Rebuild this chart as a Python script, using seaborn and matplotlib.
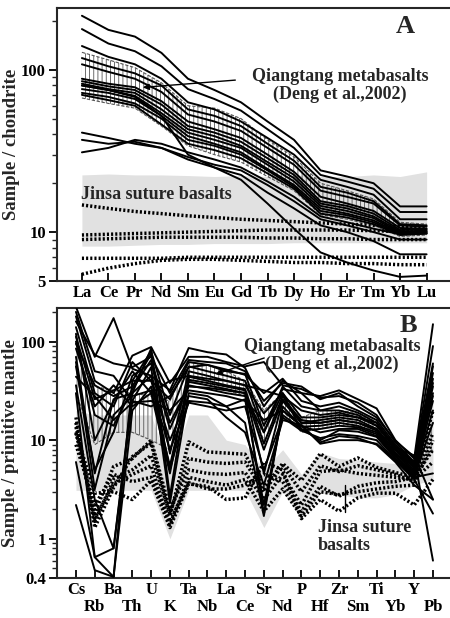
import numpy as np
import pandas as pd
import seaborn as sns
import matplotlib.pyplot as plt
from matplotlib.ticker import NullFormatter

# ---- panel A: chondrite-normalised REE ----
ree = ["La", "Ce", "Pr", "Nd", "Sm", "Eu", "Gd", "Tb", "Dy", "Ho", "Er", "Tm", "Yb", "Lu"]

ree_qiangtang = [
    [215, 176, 160, 127, 88, 75, 63, 48, 37, 24, 22, 20, 14.4, 14.4],
    [178, 145, 130, 105, 76, 66, 56, 43, 33, 22.5, 20.5, 18.5, 13.3, 13.3],
    [140, 120, 108, 88, 63, 57, 48, 38, 30, 21, 19, 17, 12, 12],
    [118, 105, 95, 80, 57, 52, 45, 35, 27.5, 19, 17.5, 15.5, 11.2, 11],
    [108, 97, 88, 73, 53, 48, 42, 33, 26, 18, 16.5, 15, 11, 10.8],
    [88, 82, 78, 64, 48, 43, 38, 30, 23.5, 16.5, 15, 13.5, 10.6, 10.5],
    [85, 79, 75, 61, 45, 41, 36, 28.5, 22.5, 15.5, 14.5, 13, 10.3, 10.4],
    [82, 76, 72, 57, 43, 39, 34, 27, 21.5, 15, 14, 12.5, 10.1, 10.2],
    [80, 75, 69, 54, 41, 37, 33, 26, 20.5, 14.5, 13.5, 12.2, 9.9, 10],
    [76, 72, 66, 52, 39, 35, 31, 24.5, 19.5, 14, 13, 11.8, 9.8, 10.1],
    [72, 68, 62, 50, 37, 34, 30, 24, 19, 13.5, 12.7, 11.5, 9.7, 9.9],
    [70, 65, 60, 46, 35, 32, 28.5, 23, 18.5, 13, 12.3, 11.2, 9.6, 9.8],
    [80, 75, 68, 52, 30, 25, 21, 15, 10.5, 7.5, 6.5, 5.8, 5.3, 5.4],
    [41, 38, 35, 33, 28, 25, 22.5, 17.5, 14, 11, 10, 8.8, 7.3, 7.3],
    [37, 35, 36, 33, 29, 26, 24, 19.5, 15.5, 12, 11, 10, 9, 9],
    [31, 33, 37, 35, 31, 28, 25, 20.5, 16.5, 12.5, 11.5, 10.5, 9.7, 9.8],
]
ree_jinsa = [
    [14.7, 14.0, 13.4, 13.0, 12.6, 12.3, 12.0, 11.8, 11.6, 11.4, 11.2, 11.0, 10.8, 10.7],
    [9.6, 9.7, 9.8, 9.9, 10.0, 10.1, 10.2, 10.3, 10.3, 10.3, 10.3, 10.2, 10.1, 10.1],
    [9.0, 9.1, 9.2, 9.3, 9.3, 9.3, 9.3, 9.2, 9.2, 9.1, 9.1, 9.0, 9.0, 9.0],
    [6.9, 6.9, 6.9, 6.9, 7.0, 7.0, 7.0, 7.0, 7.0, 7.0, 7.0, 7.0, 7.0, 7.0],
    [5.5, 6.0, 6.4, 6.7, 6.8, 6.8, 6.7, 6.6, 6.5, 6.5, 6.4, 6.4, 6.3, 6.3],
]
ree_field_hi = [128, 115, 103, 83, 60, 58, 50, 37, 29, 20, 18, 16, 11.5, 11.2]
ree_field_lo = [67, 62, 58, 45, 34, 30, 27, 22, 18, 12.8, 12, 11, 9.4, 9.6]
ree_gray_hi = [22.5, 22.8, 22.5, 22.5, 22.3, 22.0, 22.3, 22.0, 22.5, 22.0, 22.0, 22.5, 22.0, 23.5]
ree_gray_lo = [8.2, 8.2, 8.3, 8.4, 8.4, 8.5, 8.5, 8.5, 8.6, 8.6, 8.6, 8.6, 8.6, 8.6]

# ---- panel B: primitive-mantle-normalised trace elements ----
trace = ["Cs", "Rb", "Ba", "Th", "U", "K", "Ta", "Nb", "La", "Ce",
         "Sr", "Nd", "P", "Hf", "Zr", "Sm", "Ti", "Yb", "Y", "Pb"]

trace_qiangtang = [
    [225, 70, 173, 53, 45, 32, 86, 78, 74, 54, 22, 40, 30, 28, 32, 26, 21, 10, 6.5, 150],
    [180, 40, 30, 72, 88, 38, 70, 70, 62, 56, 62, 36, 33, 27, 28, 24, 18, 9.5, 6.0, 60],
    [140, 30, 22, 62, 40, 26, 62, 58, 52, 46, 30, 42, 25, 22, 24, 20, 16, 9.0, 5.8, 56],
    [112, 26, 32, 40, 80, 18, 56, 50, 45, 40, 12, 35, 22, 20, 22, 19, 15, 8.6, 5.6, 48],
    [95, 36, 28, 35, 75, 7.3, 50, 45, 40, 36, 18.7, 30, 17, 17, 18, 17, 14, 8.2, 5.4, 42],
    [85, 22, 36, 22, 30, 4.6, 44, 40, 36, 33, 9.2, 28, 15, 16, 17, 16, 13, 7.9, 5.2, 38],
    [70, 4.6, 26, 30, 85, 2.7, 41, 38, 35, 32, 4.6, 25, 14.8, 15, 16, 15, 12.5, 7.5, 5.0, 35],
    [62, 3.2, 18, 28, 32, 5.5, 39, 36, 33, 30, 1.8, 22, 13.7, 14, 15, 14, 12, 7.3, 4.8, 30],
    [56, 5.0, 12, 45, 60, 13, 36, 33, 30, 28, 12, 30, 12.6, 13, 14, 13.5, 11.5, 7.0, 4.6, 25],
    [44, 28, 16, 24, 25, 20, 32, 30, 28, 25, 16, 20, 14, 12, 13, 13, 11, 6.8, 4.4, 20],
    [36, 2.5, 0.8, 25, 55, 2.3, 30, 28, 22, 26, 2.2, 18, 13, 10, 12.6, 12.2, 10.8, 6.5, 4.3, 15],
    [30, 0.65, 0.41, 40, 40, 10, 28, 26, 17, 12, 3.5, 16, 14.2, 9.2, 10, 10, 9.2, 6.3, 4.2, 4.6],
    [6, 0.65, 0.8, 30, 45, 5, 25, 24, 22, 15, 1.7, 20, 14, 9.5, 11, 10.5, 9, 6.0, 3.5, 2.5],
    [2.2, 0.48, 0.41, 20, 35, 8, 24, 22, 20, 22, 5, 17, 12.5, 10.5, 11.5, 11, 10, 6.2, 4.0, 1.8],
    [160, 73, 60, 55, 70, 30, 65, 62, 60, 50, 25, 38, 35, 26, 30, 22, 17, 9.8, 6.8, 0.6],
    [200, 50, 45, 25, 22, 28, 55, 58, 50, 47, 14, 33, 30, 20, 20, 18, 14, 8.4, 7.0, 2.5],
    [120, 10, 25, 50, 30, 40, 45, 42, 40, 36, 32, 28, 20, 18, 19, 17, 15, 8.0, 6.0, 90],
    [100, 18, 14, 33, 65, 15, 35, 34, 32, 30, 8, 26, 16, 15, 16, 15, 13, 7.2, 5.5, 28],
]
trace_jinsa = [
    [17, 1.3, 3.3, 6.8, 9.3, 1.7, 9.6, 7.6, 7.4, 7.2, 3.3, 5.8, 3.9, 7.3, 5.4, 6.6, 5.3, 4.7, 4.2, 11.8],
    [13.6, 1.8, 5.4, 6.5, 10, 2.0, 5.0, 4.6, 4.5, 4.7, 2.5, 4.5, 2.2, 4.8, 5.0, 4.6, 4.4, 4.2, 4.0, 6.0],
    [11.7, 2.9, 3.0, 2.5, 3.9, 1.3, 3.6, 3.4, 2.5, 2.6, 6.0, 5.0, 1.6, 2.5, 1.9, 2.6, 2.9, 2.9, 2.2, 4.0],
    [9, 2.2, 4.5, 3.8, 4.2, 1.5, 3.7, 3.2, 3.2, 3.5, 4.5, 3.8, 1.9, 3.4, 2.7, 3.4, 3.7, 3.8, 4.2, 8],
    [15, 1.5, 4, 5, 7, 1.8, 6.5, 6, 5.8, 6, 3, 5.5, 3, 5.5, 4.8, 5.5, 5, 4.5, 3.8, 20],
    [12, 1.6, 3.6, 4.5, 5.5, 1.4, 4.2, 3.8, 3.5, 4, 1.9, 3.2, 1.7, 3, 2.8, 3, 3.2, 3.4, 3.5, 10],
]
trace_field_hi = [100, 35, 32, 30, 28, 25, 62, 58, 50, 40, 20, 30, 17, 20, 20, 19, 16, 9, 6, 15]
trace_field_lo = [30, 9, 12, 12, 10, 8, 40, 36, 32, 28, 10, 20, 12, 13, 14, 13.5, 12, 6.5, 4.5, 8]
trace_gray_hi = [20, 18, 18, 18, 18, 5, 18, 18, 10, 9, 5, 8, 4.5, 7.5, 6.5, 6.3, 6, 5.8, 5.3, 25]
trace_gray_lo = [3.1, 3.1, 3.1, 3.1, 3.1, 1.0, 3.1, 3.1, 3.1, 3.1, 1.3, 3.0, 1.6, 2.9, 2.8, 2.6, 2.6, 2.8, 3.5, 4.0]


def long_form(rows):
    recs = [(k, i, v) for k, r in enumerate(rows) for i, v in enumerate(r)]
    return pd.DataFrame(recs, columns=["sample", "pos", "value"])


sns.set_theme(style="ticks")
plt.rcParams["font.family"] = ["Liberation Serif", "DejaVu Serif"]
plt.rcParams["font.weight"] = "bold"
plt.rcParams["hatch.linewidth"] = 0.6
plt.rcParams["axes.linewidth"] = 1.5

fig = plt.figure(figsize=(4.5, 6.18), dpi=100)
axA = fig.add_axes([57 / 450, (618 - 281) / 618, (451 - 57) / 450, (281 - 8) / 618])
axB = fig.add_axes([57 / 450, (618 - 578) / 618, (451 - 57) / 450, (578 - 308) / 618])

dotted = (0, (0.6, 0.6))


def draw_panel(ax, names, qt, js, fhi, flo, ghi, glo):
    x = np.arange(len(names))
    ax.set_yscale("log")
    ax.fill_between(x, glo, ghi, color="#e1e1e1", lw=0, zorder=0)
    ax.fill_between(x, flo, fhi, facecolor="none", edgecolor="#555555",
                    hatch="||||", lw=0, zorder=1)
    ax.plot(x, fhi, ls=(0, (3, 1.5)), color="#555555", lw=0.8, zorder=1)
    ax.plot(x, flo, ls=(0, (3, 1.5)), color="#555555", lw=0.8, zorder=1)
    sns.lineplot(data=long_form(js), x="pos", y="value", units="sample",
                 estimator=None, sort=False, color="black", lw=2.5,
                 linestyle=dotted, legend=False, ax=ax, zorder=2)
    sns.lineplot(data=long_form(qt), x="pos", y="value", units="sample",
                 estimator=None, sort=False, color="black", lw=1.4,
                 legend=False, ax=ax, zorder=3)
    ax.set_xlabel("")
    ax.spines["right"].set_visible(False)
    ax.tick_params(axis="x", which="both", direction="in", length=6, width=1.3,
                   labelsize=12, pad=3, colors="black")
    ax.tick_params(axis="y", which="major", direction="out", length=6,
                   width=1.3, labelsize=12, pad=2, colors="black")
    ax.tick_params(axis="y", which="minor", direction="out", length=3.5,
                   width=1.0)
    ax.yaxis.set_minor_formatter(NullFormatter())


# panel A
draw_panel(axA, ree, ree_qiangtang, ree_jinsa, ree_field_hi, ree_field_lo,
           ree_gray_hi, ree_gray_lo)
axA.set_xlim(-0.94, 13.92)
axA.set_ylim(5, 240)
axA.set_xticks(np.arange(len(ree)), ree)
axA.set_yticks([5, 10, 100], ["5", "10", "100"])
axA.set_yticks([6, 7, 8, 9, 20, 30, 40, 50, 60, 70, 80, 90, 200], minor=True)
axA.set_ylabel("Sample / chondrite", fontsize=13.5, fontweight="bold")
axA.yaxis.set_label_coords(-0.094, 0.5)
axA.text(12.19, 184, "A", fontsize=19, fontweight="bold", ha="center", va="center")
axA.text(9.74, 80, "Qiangtang metabasalts\n(Deng et al.,2002)", fontsize=13,
         fontweight="bold", ha="center", va="center", multialignment="center",
         linespacing=1.05)
axA.annotate("", xy=(2.19, 77.6), xytext=(5.89, 86.6),
             arrowprops=dict(arrowstyle="-|>", color="black", lw=1.0,
                             mutation_scale=9))
axA.text(-0.05, 17.0, "Jinsa suture basalts", fontsize=13, fontweight="bold",
         ha="left", va="center")

# panel B: labels alternate between two rows
draw_panel(axB, trace, trace_qiangtang, trace_jinsa, trace_field_hi,
           trace_field_lo, trace_gray_hi, trace_gray_lo)
axB.set_xlim(-1.01, 19.96)
axB.set_ylim(0.4, 219)
pos = np.arange(len(trace))
axB.set_xticks(pos[::2], trace[::2])
axB.set_xticks(pos[1::2], trace[1::2], minor=True)
axB.tick_params(axis="x", which="minor", pad=15, labelsize=12)
axB.set_yticks([0.4, 1, 10, 100], ["0.4", "1", "10", "100"])
axB.set_yticks([0.5, 0.6, 0.7, 0.8, 0.9, 2, 3, 4, 5, 6, 7, 8, 9,
                20, 30, 40, 50, 60, 70, 80, 90, 200], minor=True)
axB.yaxis.set_minor_formatter(NullFormatter())
axB.set_ylabel("Sample / primitive mantle", fontsize=13.5, fontweight="bold")
axB.yaxis.set_label_coords(-0.097, 0.5)
axB.text(17.67, 147, "B", fontsize=19, fontweight="bold", ha="center", va="center")
axB.text(13.62, 72.9, "Qiangtang metabasalts\n(Deng et al.,2002)", fontsize=13,
         fontweight="bold", ha="center", va="center", multialignment="center",
         linespacing=1.05)
axB.annotate("", xy=(7.29, 45.7), xytext=(10.16, 69.6),
             arrowprops=dict(arrowstyle="-|>", color="black", lw=1.0,
                             mutation_scale=9))
axB.plot([14.32, 14.32], [1.86, 3.5], color="black", lw=1.0, zorder=4)
axB.text(12.88, 1.06, "Jinsa suture\nbasalts", fontsize=13, fontweight="bold",
         ha="left", va="center", linespacing=1.1)

fig.savefig("out.png", dpi=100)
